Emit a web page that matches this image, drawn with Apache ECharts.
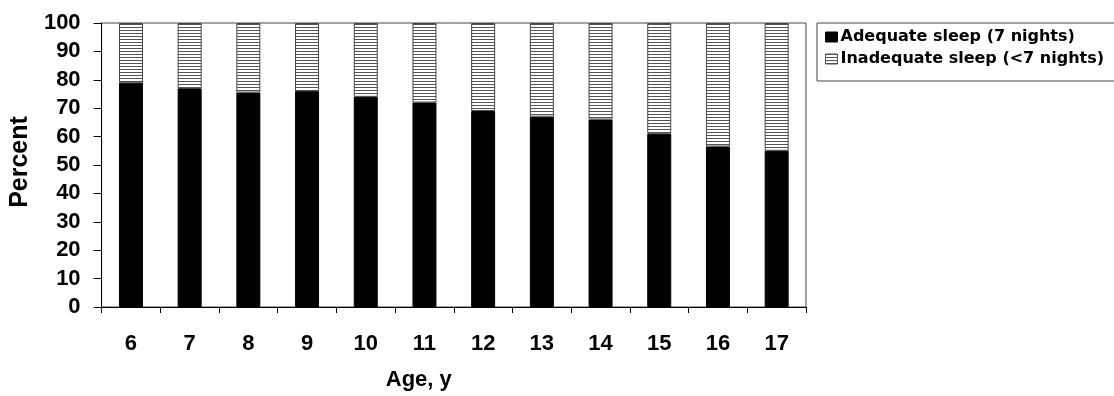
<!DOCTYPE html>
<html>
<head>
<meta charset="utf-8">
<script src="https://cdn.jsdelivr.net/npm/echarts@6/dist/echarts.min.js"></script>
<style>
  html, body { margin: 0; padding: 0; background: #fff; }
  #chart { width: 1114px; height: 396px; }
</style>
</head>
<body>
<div id="chart"></div>
<script>
// Ages (years)
const ages = ['6', '7', '8', '9', '10', '11', '12', '13', '14', '15', '16', '17'];
// Percent of children with adequate sleep (7 nights)
const adequate = [79, 77, 75.5, 76, 74, 72, 69, 67, 66, 61, 56.5, 55];
// Percent of children with inadequate sleep (<7 nights)
const inadequate = [21, 23, 24.5, 24, 26, 28, 31, 33, 34, 39, 43.5, 45];
const yTicks = [0, 10, 20, 30, 40, 50, 60, 70, 80, 90, 100];

// Horizontal hatch fill for the inadequate-sleep segments
function hatch() {
  const c = document.createElement('canvas');
  c.width = 4; c.height = 3;
  const g = c.getContext('2d');
  g.fillStyle = '#ffffff';
  g.fillRect(0, 0, 4, 3);
  g.fillStyle = '#555555';
  g.fillRect(0, 0, 4, 1);
  return c;
}
const hatchFill = { image: hatch(), repeat: 'repeat' };

const axisFont = { fontFamily: "'Liberation Sans', Arial, sans-serif", fontWeight: 'bold', color: '#000' };

const chart = echarts.init(document.getElementById('chart'), null, { renderer: 'canvas' });
chart.setOption({
  animation: false,
  backgroundColor: '#fff',
  grid: {
    left: 101, right: 308, top: 23, bottom: 89,
    show: true, borderColor: '#444', borderWidth: 1, backgroundColor: 'transparent'
  },
  legend: {
    left: 817, top: 23, orient: 'vertical',
    itemWidth: 12, itemHeight: 10, itemGap: 2, icon: 'rect',
    padding: [4, 60, 12, 8],
    borderColor: '#444', borderWidth: 1, backgroundColor: '#fff',
    textStyle: { fontFamily: "'DejaVu Sans', Verdana, sans-serif", fontWeight: 'bold', fontSize: 16, lineHeight: 20, color: '#000', padding: [0, 0, 0, -2] },
    data: [
      { name: 'Adequate sleep (7 nights)', itemStyle: { color: '#000', borderColor: '#000', borderWidth: 1 } },
      { name: 'Inadequate sleep (<7 nights)', itemStyle: { color: hatchFill, borderColor: '#555', borderWidth: 1 } }
    ]
  },
  xAxis: {
    type: 'category',
    data: ages,
    name: 'Age, y',
    nameLocation: 'middle',
    nameGap: 62,
    nameTextStyle: Object.assign({ fontSize: 22, padding: [0, 70, 0, 0] }, axisFont),
    axisLine: { lineStyle: { color: '#000', width: 1 } },
    axisTick: { show: true, length: 6, lineStyle: { color: '#000' } },
    axisLabel: Object.assign({ fontSize: 22, margin: 26 }, axisFont)
  },
  yAxis: {
    type: 'value',
    min: 0, max: 100, interval: 10,
    name: 'Percent',
    nameLocation: 'middle',
    nameRotate: 90,
    nameGap: 64,
    nameTextStyle: Object.assign({ fontSize: 25, padding: [0, 0, 0, 6] }, axisFont),
    axisLine: { show: true, lineStyle: { color: '#000', width: 1 } },
    axisTick: { show: true, length: 8, lineStyle: { color: '#000' } },
    splitLine: { show: false },
    axisLabel: Object.assign({
      fontSize: 22, margin: 21,
      formatter: v => (yTicks.indexOf(v) >= 0 ? String(v) : '')
    }, axisFont)
  },
  series: [
    {
      name: 'Adequate sleep (7 nights)',
      type: 'bar', stack: 'sleep', barWidth: 24,
      data: adequate,
      itemStyle: { color: '#000', borderColor: '#000', borderWidth: 1 }
    },
    {
      name: 'Inadequate sleep (<7 nights)',
      type: 'bar', stack: 'sleep', barWidth: 24,
      data: inadequate,
      itemStyle: { color: hatchFill, borderColor: '#444', borderWidth: 1 }
    }
  ]
});
</script>
</body>
</html>
